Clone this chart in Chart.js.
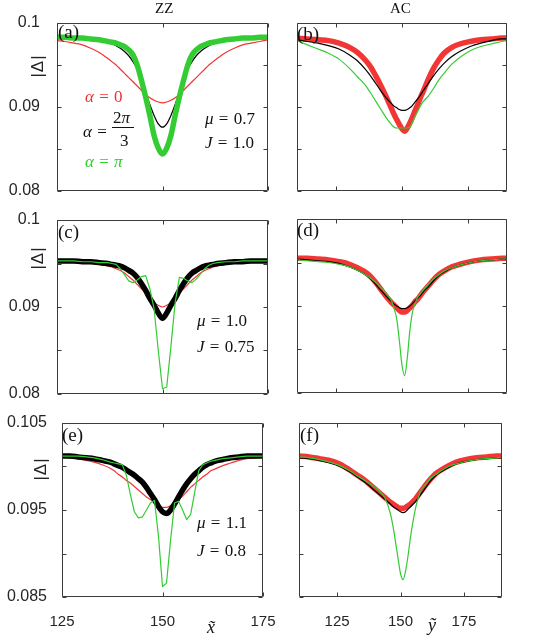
<!DOCTYPE html>
<html><head><meta charset="utf-8">
<script src="https://cdn.jsdelivr.net/npm/chart.js@4/dist/chart.umd.min.js"></script>
<style>
html,body{margin:0;padding:0;background:#fff;}
#wrap{position:relative;width:534px;height:641px;overflow:hidden;background:#fff;}
canvas{position:absolute;}
.t{position:absolute;font-family:"Liberation Serif","Times New Roman",serif;white-space:nowrap;line-height:1;color:#111;}
.m{font-size:17px;word-spacing:1px;}
.p{font-size:19px;}
.yl{position:absolute;font-family:"Liberation Sans",Arial,sans-serif;font-size:17px;line-height:1;transform:translate(-50%,-50%) rotate(-90deg);color:#222;letter-spacing:1px;}
</style></head><body><div id="wrap">
<canvas id="ca" width="280" height="200" style="left:0;top:0"></canvas>
<canvas id="cb" width="254" height="200" style="left:280px;top:0"></canvas>
<canvas id="cc" width="280" height="200" style="left:0;top:200px"></canvas>
<canvas id="cd" width="254" height="200" style="left:280px;top:200px"></canvas>
<canvas id="ce" width="280" height="241" style="left:0;top:400px"></canvas>
<canvas id="cf" width="254" height="241" style="left:280px;top:400px"></canvas>

<div class="t" style="left:155px;top:1px;font-size:15px;">ZZ</div>
<div class="t" style="left:390px;top:1px;font-size:15px;">AC</div>

<div class="yl" style="left:37px;top:66px;">|Δ|</div>
<div class="yl" style="left:37px;top:258px;">|Δ|</div>
<div class="yl" style="left:40px;top:469px;">|Δ|</div>

<div class="t p" style="left:58px;top:22px;">(a)</div>
<div class="t p" style="left:297px;top:24px;">(b)</div>
<div class="t p" style="left:58px;top:222px;">(c)</div>
<div class="t p" style="left:297px;top:220px;">(d)</div>
<div class="t p" style="left:62px;top:425px;">(e)</div>
<div class="t p" style="left:300px;top:425px;">(f)</div>

<div class="t m" style="left:85px;top:88px;color:#f03030;"><i>α</i> = 0</div>
<div class="t m" style="left:83px;top:123px;"><i>α</i> =</div>
<div class="t m" style="left:113px;top:109px;">2<i>π</i></div>
<div style="position:absolute;left:112px;top:127px;width:22px;height:1px;background:#111;"></div>
<div class="t m" style="left:120px;top:132px;">3</div>
<div class="t m" style="left:85px;top:153px;color:#2ecc2e;"><i>α</i> = <i>π</i></div>
<div class="t m" style="left:205px;top:110px;"><i>μ</i> = 0.7</div>
<div class="t m" style="left:205px;top:134px;"><i>J</i> = 1.0</div>
<div class="t m" style="left:197px;top:312px;"><i>μ</i> = 1.0</div>
<div class="t m" style="left:197px;top:338px;"><i>J</i> = 0.75</div>
<div class="t m" style="left:197px;top:514px;"><i>μ</i> = 1.1</div>
<div class="t m" style="left:197px;top:542px;"><i>J</i> = 0.8</div>
<div class="t" style="left:207px;top:618px;font-size:18px;"><i>x̃</i></div>
<div class="t" style="left:428px;top:616px;font-size:18px;"><i>ỹ</i></div>
</div>
<script>
// ---- data ----
const ZZ_X = [125,127,129,131,133,135,137,138,139,140,141,142,143,144,145,146,147,148,149,150,151,152,153,154,155,156,157,158,159,160,161,162,163,165,167,169,171,173,175];
const AC_X = [110,114,118,122,126,130,133,136,138,140,142,144,146,147,148,149,150,151,152,153,154,155,156,157,158,160,162,164,166,169,172,176,180,184,188,190];

const ZZ_X_TICKS = [125,150,175];
const AC_X_TICKS = [125,150,175];
const Y_TICKS_TOP = [0.08,0.085,0.09,0.095,0.1];
const Y_LABELS_TOP = ['0.08','','0.09','','0.1'];
const Y_TICKS_BOT = [0.085,0.09,0.095,0.1,0.105];
const Y_LABELS_BOT = ['0.085','','0.095','','0.105'];

// (a) ZZ, mu=0.7, J=1.0
const A_RED   = [0.0979,0.0978,0.0976,0.0974,0.0970,0.0965,0.0958,0.0954,0.0950,0.0945,0.0940,0.0935,0.0930,0.0925,0.0920,0.0915,0.0911,0.0908,0.0906,0.0905,0.0906,0.0908,0.0911,0.0915,0.0920,0.0925,0.0930,0.0935,0.0940,0.0945,0.0950,0.0954,0.0958,0.0965,0.0970,0.0974,0.0976,0.0978,0.0980];
const A_BLACK = [0.0982,0.0982,0.0981,0.0981,0.0980,0.0979,0.0977,0.0975,0.0973,0.0970,0.0966,0.0961,0.0954,0.0945,0.0933,0.0918,0.0903,0.0890,0.0880,0.0876,0.0880,0.0890,0.0903,0.0918,0.0933,0.0945,0.0954,0.0961,0.0966,0.0970,0.0973,0.0975,0.0977,0.0979,0.0980,0.0981,0.0981,0.0982,0.0982];
const A_GREEN = [0.0983,0.0983,0.0982,0.0982,0.0981,0.0980,0.0978,0.0977,0.0976,0.0974,0.0972,0.0968,0.0962,0.0950,0.0932,0.0912,0.0890,0.0866,0.0851,0.0844,0.0851,0.0866,0.0890,0.0912,0.0932,0.0950,0.0962,0.0968,0.0972,0.0974,0.0976,0.0977,0.0978,0.0980,0.0981,0.0982,0.0982,0.0983,0.0983];

// (b) AC, mu=0.7, J=1.0
const B_RED   = [0.0982,0.0981,0.0980,0.0979,0.0976,0.0971,0.0965,0.0956,0.0948,0.0937,0.0925,0.0912,0.0898,0.0891,0.0885,0.0879,0.0874,0.0871,0.0875,0.0881,0.0888,0.0896,0.0903,0.0911,0.0918,0.0933,0.0946,0.0956,0.0964,0.0971,0.0975,0.0978,0.0980,0.0981,0.0982,0.0982];
const B_BLACK = [0.0980,0.0978,0.0976,0.0973,0.0969,0.0962,0.0955,0.0945,0.0937,0.0928,0.0919,0.0911,0.0904,0.0901,0.0899,0.0897,0.0896,0.0896,0.0897,0.0899,0.0902,0.0906,0.0910,0.0914,0.0919,0.0928,0.0937,0.0945,0.0952,0.0960,0.0966,0.0972,0.0976,0.0979,0.0981,0.0981];
const B_GREEN = [0.0979,0.0974,0.0969,0.0964,0.0957,0.0946,0.0936,0.0926,0.0917,0.0907,0.0897,0.0887,0.0879,0.0876,0.0875,0.0875,0.0875,0.0875,0.0875,0.0876,0.0882,0.0889,0.0895,0.0901,0.0906,0.0913,0.0922,0.0932,0.0940,0.0951,0.0959,0.0967,0.0972,0.0975,0.0978,0.0979];

// (c) ZZ, mu=1.0, J=0.75
const C_RED   = [0.0952,0.0952,0.0952,0.0951,0.0950,0.0949,0.0947,0.0946,0.0944,0.0942,0.0939,0.0935,0.0931,0.0926,0.0921,0.0916,0.0910,0.0905,0.0902,0.0900,0.0902,0.0905,0.0910,0.0916,0.0921,0.0926,0.0931,0.0935,0.0939,0.0942,0.0944,0.0946,0.0947,0.0949,0.0950,0.0951,0.0952,0.0952,0.0952];
const C_BLACK = [0.0953,0.0953,0.0953,0.0952,0.0952,0.0951,0.0950,0.0949,0.0948,0.0947,0.0945,0.0942,0.0939,0.0934,0.0927,0.0919,0.0910,0.0902,0.0893,0.0887,0.0893,0.0902,0.0910,0.0919,0.0927,0.0934,0.0939,0.0942,0.0945,0.0947,0.0948,0.0949,0.0950,0.0951,0.0952,0.0952,0.0953,0.0953,0.0953];
const C_GREEN = [0.0953,0.0953,0.0953,0.0952,0.0952,0.0951,0.0951,0.0950,0.0949,0.0944,0.0937,0.0930,0.0928,0.0931,0.0935,0.0936,0.0921,0.0898,0.0850,0.0806,0.0808,0.0855,0.0905,0.0934,0.0933,0.0930,0.0928,0.0932,0.0938,0.0944,0.0948,0.0950,0.0951,0.0952,0.0952,0.0953,0.0953,0.0953,0.0953];

// (d) AC, mu=1.0, J=0.75
const D_RED   = [0.0955,0.0955,0.0954,0.0953,0.0951,0.0948,0.0944,0.0939,0.0934,0.0927,0.0919,0.0911,0.0904,0.0901,0.0898,0.0895,0.0893,0.0893,0.0895,0.0898,0.0901,0.0905,0.0908,0.0912,0.0916,0.0923,0.0930,0.0936,0.0940,0.0945,0.0948,0.0951,0.0953,0.0954,0.0955,0.0955];
const D_BLACK = [0.0954,0.0953,0.0952,0.0951,0.0949,0.0945,0.0941,0.0936,0.0931,0.0925,0.0918,0.0911,0.0905,0.0902,0.0900,0.0898,0.0897,0.0897,0.0898,0.0900,0.0903,0.0906,0.0909,0.0912,0.0916,0.0922,0.0929,0.0935,0.0939,0.0944,0.0947,0.0950,0.0952,0.0953,0.0954,0.0954];
const D_GREEN = [0.0953,0.0952,0.0951,0.0950,0.0948,0.0945,0.0941,0.0936,0.0932,0.0927,0.0921,0.0915,0.0906,0.0897,0.0885,0.0860,0.0832,0.0820,0.0840,0.0872,0.0893,0.0903,0.0910,0.0914,0.0918,0.0925,0.0931,0.0936,0.0940,0.0944,0.0947,0.0950,0.0952,0.0953,0.0954,0.0954];

// (e) ZZ, mu=1.1, J=0.8
const E_RED   = [0.1011,0.1010,0.1009,0.1007,0.1005,0.1002,0.0998,0.0995,0.0991,0.0988,0.0984,0.0981,0.0977,0.0973,0.0969,0.0965,0.0962,0.0958,0.0955,0.0953,0.0953,0.0955,0.0958,0.0962,0.0966,0.0971,0.0976,0.0980,0.0984,0.0988,0.0991,0.0995,0.0997,0.1001,0.1004,0.1007,0.1009,0.1010,0.1011];
const E_BLACK = [0.1012,0.1012,0.1011,0.1010,0.1009,0.1007,0.1005,0.1003,0.1001,0.0999,0.0996,0.0993,0.0990,0.0986,0.0982,0.0976,0.0969,0.0962,0.0954,0.0948,0.0946,0.0950,0.0957,0.0965,0.0973,0.0980,0.0986,0.0991,0.0995,0.0999,0.1002,0.1004,0.1006,0.1008,0.1010,0.1011,0.1012,0.1012,0.1012];
const E_GREEN = [0.1012,0.1012,0.1012,0.1011,0.1010,0.1008,0.1005,0.1004,0.1003,0.1002,0.0990,0.0968,0.0948,0.0941,0.0942,0.0950,0.0958,0.0961,0.0920,0.0862,0.0866,0.0915,0.0958,0.0960,0.0950,0.0939,0.0945,0.0970,0.0995,0.1002,0.1004,0.1006,0.1007,0.1009,0.1010,0.1011,0.1012,0.1012,0.1012];

// (f) AC, mu=1.1, J=0.8
const F_RED   = [0.1012,0.1011,0.1009,0.1007,0.1003,0.0996,0.0990,0.0984,0.0979,0.0974,0.0969,0.0964,0.0959,0.0957,0.0955,0.0953,0.0952,0.0952,0.0953,0.0955,0.0957,0.0960,0.0963,0.0967,0.0971,0.0979,0.0986,0.0992,0.0996,0.1001,0.1005,0.1008,0.1010,0.1011,0.1012,0.1012];
const F_BLACK = [0.1010,0.1009,0.1007,0.1004,0.1000,0.0994,0.0988,0.0982,0.0977,0.0972,0.0967,0.0962,0.0957,0.0954,0.0952,0.0950,0.0948,0.0947,0.0948,0.0951,0.0954,0.0957,0.0960,0.0964,0.0968,0.0976,0.0984,0.0990,0.0994,0.0999,0.1003,0.1006,0.1008,0.1009,0.1010,0.1010];
const F_GREEN = [0.1011,0.1010,0.1008,0.1005,0.1001,0.0995,0.0989,0.0984,0.0980,0.0976,0.0971,0.0963,0.0946,0.0932,0.0914,0.0895,0.0877,0.0870,0.0880,0.0898,0.0920,0.0938,0.0953,0.0964,0.0972,0.0980,0.0987,0.0991,0.0995,0.1000,0.1003,0.1006,0.1008,0.1009,0.1010,0.1011];

// ---- styles ----
const RED = '#f23535', BLACK = '#000000', GREEN = '#33cc33';
const THICK = 5.5, THIN = 1.2;

const boxTicks = {
  id: 'boxTicks',
  afterDatasetsDraw(chart) {
    const {ctx, chartArea: a, scales: {x, y}} = chart;
    const L = 4;
    ctx.save();
    ctx.strokeStyle = '#3c3c3c';
    ctx.lineWidth = 1;
    const l = Math.round(a.left) + 0.5, r = Math.round(a.right) - 0.5;
    const t = Math.round(a.top) + 0.5, b = Math.round(a.bottom) - 0.5;
    ctx.beginPath();
    ctx.rect(l, t, r - l, b - t);
    x.ticks.forEach(tk => {
      const px = Math.round(x.getPixelForValue(tk.value)) + 0.5;
      ctx.moveTo(px, b); ctx.lineTo(px, b - L);
      ctx.moveTo(px, t); ctx.lineTo(px, t + L);
    });
    y.ticks.forEach(tk => {
      const py = Math.round(y.getPixelForValue(tk.value)) + 0.5;
      ctx.moveTo(l, py); ctx.lineTo(l + L, py);
      ctx.moveTo(r, py); ctx.lineTo(r - L, py);
    });
    ctx.stroke();
    ctx.restore();
  }
};

function makePanel(id, xs, series, o) {
  const datasets = series.map(s => ({
    data: xs.map((x, i) => ({x: x, y: s.v[i]})),
    borderColor: s.c,
    borderWidth: s.w,
    pointRadius: 0,
    fill: false,
    tension: s.straight ? 0 : 0.4,
    cubicInterpolationMode: s.straight ? 'default' : 'monotone',
    borderJoinStyle: 'round',
    borderCapStyle: 'round'
  }));
  new Chart(document.getElementById(id), {
    type: 'line',
    data: {datasets},
    options: {
      responsive: false, animation: false, events: [],
      layout: {padding: {top: o.top, right: o.right, left: 0, bottom: 0}},
      plugins: {legend: {display: false}, tooltip: {enabled: false}},
      scales: {
        x: {
          type: 'linear', min: o.xmin, max: o.xmax,
          afterBuildTicks: s => { s.ticks = o.xticks.map(v => ({value: v})); },
          grid: {display: false}, border: {display: false},
          ticks: {display: o.xlab, autoSkip: false, maxRotation: 0, padding: 8,
                  color: '#262626', font: {family: 'Liberation Sans, Arial, sans-serif', size: 15}},
          afterFit: s => { s.height = o.xh; s.paddingLeft = 0; s.paddingRight = 0; }
        },
        y: {
          type: 'linear', min: o.ymin, max: o.ymax,
          afterBuildTicks: s => { s.ticks = o.yticks.map(v => ({value: v})); },
          grid: {display: false}, border: {display: false},
          ticks: {display: o.ylab, autoSkip: false, padding: o.ypad,
                  color: '#262626', font: {family: 'Liberation Sans, Arial, sans-serif', size: 16},
                  callback: (v, i) => o.ylabels[i]},
          afterFit: s => { s.width = o.yw; s.paddingTop = 0; s.paddingBottom = 0; }
        }
      }
    },
    plugins: [boxTicks]
  });
}

// (a)
makePanel('ca', ZZ_X, [
  {v: A_GREEN, c: GREEN, w: THICK},
  {v: A_BLACK, c: BLACK, w: THIN},
  {v: A_RED, c: RED, w: THIN}
], {top: 23, right: 12, xh: 9, yw: 57, xmin: 125, xmax: 175, xticks: ZZ_X_TICKS, xlab: false,
    ymin: 0.08, ymax: 0.1, yticks: Y_TICKS_TOP, ylabels: Y_LABELS_TOP, ylab: true, ypad: 9});
// (b)
makePanel('cb', AC_X, [
  {v: B_GREEN, c: GREEN, w: THIN},
  {v: B_BLACK, c: BLACK, w: THIN},
  {v: B_RED, c: RED, w: THICK}
], {top: 23, right: 27, xh: 9, yw: 17, xmin: 110, xmax: 190, xticks: AC_X_TICKS, xlab: false,
    ymin: 0.08, ymax: 0.1, yticks: Y_TICKS_TOP, ylabels: Y_LABELS_TOP, ylab: false, ypad: 9});
// (c)
makePanel('cc', ZZ_X, [
  {v: C_GREEN, c: GREEN, w: THIN, straight: true},
  {v: C_BLACK, c: BLACK, w: THICK},
  {v: C_RED, c: RED, w: THIN}
], {top: 20, right: 12, xh: 6, yw: 57, xmin: 125, xmax: 175, xticks: ZZ_X_TICKS, xlab: false,
    ymin: 0.08, ymax: 0.1, yticks: Y_TICKS_TOP, ylabels: Y_LABELS_TOP, ylab: true, ypad: 9});
// (d)
makePanel('cd', AC_X, [
  {v: D_GREEN, c: GREEN, w: THIN},
  {v: D_BLACK, c: BLACK, w: THIN},
  {v: D_RED, c: RED, w: THICK}
], {top: 19, right: 27, xh: 7, yw: 17, xmin: 110, xmax: 190, xticks: AC_X_TICKS, xlab: false,
    ymin: 0.08, ymax: 0.1, yticks: Y_TICKS_TOP, ylabels: Y_LABELS_TOP, ylab: false, ypad: 9});
// (e)
makePanel('ce', ZZ_X, [
  {v: E_GREEN, c: GREEN, w: THIN, straight: true},
  {v: E_BLACK, c: BLACK, w: THICK},
  {v: E_RED, c: RED, w: THIN}
], {top: 23, right: 17, xh: 44, yw: 62, xmin: 125, xmax: 175, xticks: ZZ_X_TICKS, xlab: true,
    ymin: 0.085, ymax: 0.105, yticks: Y_TICKS_BOT, ylabels: Y_LABELS_BOT, ylab: true, ypad: 7});
// (f)
makePanel('cf', AC_X, [
  {v: F_GREEN, c: GREEN, w: THIN},
  {v: F_BLACK, c: BLACK, w: THIN},
  {v: F_RED, c: RED, w: THICK}
], {top: 23, right: 32, xh: 44, yw: 19, xmin: 110, xmax: 190, xticks: AC_X_TICKS, xlab: true,
    ymin: 0.085, ymax: 0.105, yticks: Y_TICKS_BOT, ylabels: Y_LABELS_BOT, ylab: false, ypad: 7});
</script>
</body></html>
